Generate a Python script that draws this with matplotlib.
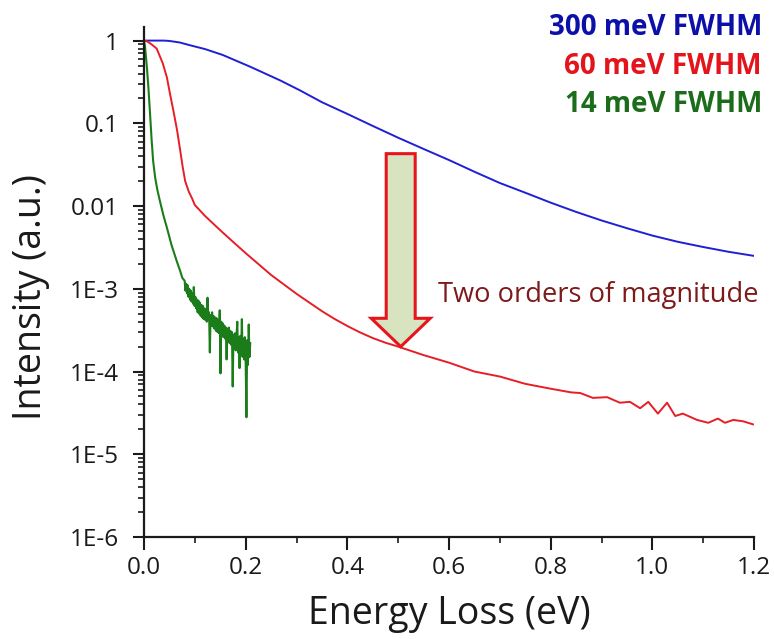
import matplotlib
matplotlib.use("Agg")
import matplotlib.pyplot as plt
from matplotlib.patches import Polygon
from matplotlib.ticker import FixedLocator, LogLocator, MultipleLocator, NullFormatter

plt.rcParams['font.family'] = ['Open Sans', 'DejaVu Sans']

# ---- spectra: energy loss (eV) vs normalised intensity ----
blue_x = [0.0, 0.02, 0.04, 0.05, 0.07, 0.09, 0.12, 0.155, 0.21, 0.268, 0.307, 0.35,
          0.4, 0.45, 0.5, 0.55, 0.6, 0.65, 0.7, 0.75, 0.8, 0.85, 0.9, 0.95, 1.0, 1.05,
          1.1, 1.15, 1.2]
blue_y = [1.0, 1.0, 1.0, 0.99, 0.95, 0.88, 0.79, 0.67, 0.48, 0.33, 0.25, 0.18,
          0.13, 0.093, 0.067, 0.049, 0.036, 0.026, 0.019, 0.0145, 0.011, 0.0085,
          0.0067, 0.0054, 0.0044, 0.0037, 0.0032, 0.0028, 0.0025]

red_x = [0.0, 0.006, 0.015, 0.025, 0.037, 0.045, 0.051, 0.058, 0.065, 0.071, 0.076,
         0.081, 0.088, 0.095, 0.1, 0.12, 0.15, 0.175, 0.2, 0.25, 0.3, 0.35, 0.375,
         0.4, 0.425, 0.45, 0.475, 0.5, 0.55, 0.6, 0.65, 0.7, 0.75, 0.8, 0.84, 0.858,
         0.883, 0.911, 0.936, 0.956, 0.976, 0.992, 1.011, 1.029, 1.045, 1.06, 1.088,
         1.11, 1.129, 1.143, 1.159, 1.179, 1.198]
red_y = [1.0, 0.98, 0.9, 0.8, 0.53, 0.36, 0.23, 0.14, 0.083, 0.048, 0.03,
         0.02, 0.015, 0.0122, 0.0103, 0.0076, 0.0051, 0.0037, 0.0027, 0.00147,
         0.00087, 0.000537, 0.000432, 0.000355, 0.000297, 0.000254, 0.000223,
         0.0002, 0.000158, 0.000128, 0.0001, 8.7e-5, 7.1e-5, 6.2e-5, 5.6e-5, 5.5e-5,
         4.8e-5, 4.9e-5, 4.2e-5, 4.3e-5, 3.6e-5, 4.3e-5, 3.1e-5, 4.2e-5, 2.9e-5,
         3.1e-5, 2.6e-5, 2.4e-5, 2.7e-5, 2.4e-5, 2.6e-5, 2.5e-5, 2.3e-5]

green_x = [0.0, 0.002, 0.004, 0.006, 0.0085, 0.011, 0.015, 0.018, 0.022, 0.026, 0.031,
           0.038, 0.045, 0.054, 0.064, 0.071, 0.0755,
           0.0800, 0.0815, 0.0830, 0.0845, 0.0860, 0.0875, 0.0890, 0.0905, 0.0920,
           0.0935, 0.0950, 0.0965, 0.0980, 0.0995, 0.1010, 0.1025, 0.1040, 0.1055,
           0.1070, 0.1085, 0.1100, 0.1115, 0.1130, 0.1145, 0.1160, 0.1175, 0.1190,
           0.1205, 0.1220, 0.1235, 0.1250, 0.1265, 0.1280, 0.1295, 0.1310, 0.1325,
           0.1340, 0.1355, 0.1370, 0.1385, 0.1400, 0.1415, 0.1430, 0.1445, 0.1460,
           0.1475, 0.1490, 0.1505, 0.1520, 0.1535, 0.1550, 0.1565, 0.1580, 0.1595,
           0.1610, 0.1625, 0.1640, 0.1655, 0.1670, 0.1685, 0.1700, 0.1715, 0.1730,
           0.1745, 0.1760, 0.1775, 0.1790, 0.1805, 0.1820, 0.1835, 0.1850, 0.1865,
           0.1880, 0.1895, 0.1910, 0.1925, 0.1940, 0.1955, 0.1970, 0.1985, 0.2000,
           0.2015, 0.2030, 0.2045, 0.2060, 0.2075, 0.2090]
green_y = [1.0, 0.85, 0.62, 0.45, 0.28, 0.16, 0.063, 0.035, 0.022, 0.016, 0.0117,
           0.0078, 0.0055, 0.0034, 0.0022, 0.00165, 0.00135,
           1.25e-3, 0.95e-3, 1.15e-3, 0.88e-3, 1.10e-3, 0.80e-3, 1.00e-3, 0.74e-3, 0.95e-3,
           0.70e-3, 0.88e-3, 0.66e-3, 1.05e-3, 0.62e-3, 0.80e-3, 0.58e-3, 0.74e-3, 0.52e-3,
           0.72e-3, 0.50e-3, 0.68e-3, 0.47e-3, 0.64e-3, 0.45e-3, 0.62e-3, 0.43e-3, 0.58e-3,
           0.42e-3, 0.56e-3, 0.40e-3, 0.78e-3, 0.42e-3, 0.52e-3, 0.17e-3, 0.48e-3, 0.36e-3,
           0.52e-3, 0.35e-3, 0.47e-3, 0.33e-3, 0.45e-3, 0.31e-3, 0.44e-3, 0.30e-3, 0.42e-3,
           0.29e-3, 0.55e-3, 0.095e-3, 0.40e-3, 0.27e-3, 0.38e-3, 0.26e-3, 0.36e-3, 0.25e-3,
           0.34e-3, 0.14e-3, 0.33e-3, 0.23e-3, 0.34e-3, 0.22e-3, 0.31e-3, 0.21e-3, 0.30e-3,
           0.066e-3, 0.28e-3, 0.19e-3, 0.29e-3, 0.18e-3, 0.27e-3, 0.40e-3, 0.17e-3, 0.26e-3,
           0.11e-3, 0.27e-3, 0.16e-3, 0.43e-3, 0.15e-3, 0.25e-3, 0.14e-3, 0.26e-3, 0.13e-3,
           0.028e-3, 0.24e-3, 0.12e-3, 0.37e-3, 0.15e-3, 0.22e-3]

series_labels = ["300 meV FWHM", "60 meV FWHM", "14 meV FWHM"]
y_ticks = [1e-6, 1e-5, 1e-4, 1e-3, 1e-2, 1e-1, 1]
y_tick_labels = ["1E-6", "1E-5", "1E-4", "1E-3", "0.01", "0.1", "1"]
x_ticks = [0.0, 0.2, 0.4, 0.6, 0.8, 1.0, 1.2]
x_tick_labels = ["0.0", "0.2", "0.4", "0.6", "0.8", "1.0", "1.2"]

line_colors = ["#1f1fd6", "#e61e26", "#1a7d1a"]
text_colors = ["#0d10a8", "#e3141c", "#1b6d1b"]

fig = plt.figure(figsize=(7.74, 6.39), dpi=100)
ax = fig.add_axes([144 / 774, 1 - 537 / 639, 610 / 774, 510 / 639])

ax.plot(blue_x, blue_y, color=line_colors[0], lw=1.4)
ax.plot(red_x, red_y, color=line_colors[1], lw=1.4)
ax.plot(green_x, green_y, color=line_colors[2], lw=1.5)

ax.set_yscale("log")
ax.set_xlim(0, 1.2)
ax.set_ylim(1e-6, 1.46)

ax.yaxis.set_major_locator(FixedLocator(y_ticks))
ax.set_yticklabels(y_tick_labels)
ax.yaxis.set_minor_locator(LogLocator(base=10, subs=range(2, 10), numticks=20))
ax.yaxis.set_minor_formatter(NullFormatter())
ax.set_xticks(x_ticks)
ax.set_xticklabels(x_tick_labels)
ax.xaxis.set_minor_locator(MultipleLocator(0.1))

for side in ("top", "right"):
    ax.spines[side].set_visible(False)
for side in ("left", "bottom"):
    ax.spines[side].set_linewidth(1.6)
    ax.spines[side].set_color("#1a1a1a")

ax.tick_params(which="major", direction="out", length=8, width=1.5,
               labelsize=17.5, colors="#1a1a1a", pad=10)
ax.tick_params(which="minor", direction="out", length=4.5, width=1.2, colors="#1a1a1a")
ax.tick_params(axis="x", which="major", length=9, pad=5)

# axis titles
fig.text(31 / 774, 1 - 297 / 639, "Intensity (a.u.)", rotation=90, fontsize=27,
         ha="center", va="center", color="#1a1a1a")
fig.text(449 / 774, 1 - 614 / 639, "Energy Loss (eV)", fontsize=27,
         ha="center", va="center", color="#1a1a1a")

# series labels, top right
for label, color, yb in zip(series_labels, text_colors, [35, 74, 112]):
    fig.text(762 / 774, 1 - yb / 639, label, fontsize=20, fontweight="bold",
             color=color, ha="right", va="baseline")

# block arrow showing the drop in the tail
cx, hw, hh = 0.505, 0.0285, 0.058
top_y, base_y, tip_y = 0.043, 4.4e-4, 2.0e-4
arrow = Polygon([(cx - hw, top_y), (cx + hw, top_y), (cx + hw, base_y),
                 (cx + hh, base_y), (cx, tip_y), (cx - hh, base_y),
                 (cx - hw, base_y)], closed=True, facecolor="#d8e4c0",
                edgecolor="#e8141c", lw=2.2, zorder=3)
ax.add_patch(arrow)

fig.text(438 / 774, 1 - 302 / 639, "Two orders of magnitude", fontsize=19.6,
         color="#7d1a1a", ha="left", va="baseline")

fig.savefig("out.png", dpi=100)
